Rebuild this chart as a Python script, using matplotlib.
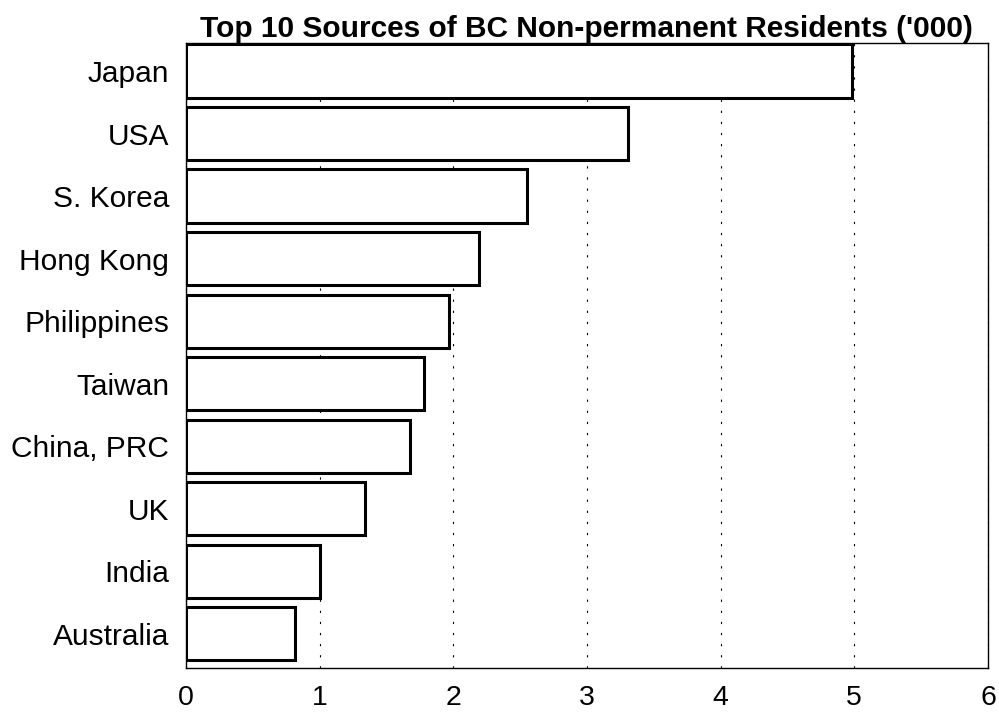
import matplotlib
matplotlib.use("Agg")
import matplotlib.pyplot as plt

countries = ["Japan", "USA", "S. Korea", "Hong Kong", "Philippines",
             "Taiwan", "China, PRC", "UK", "India", "Australia"]
residents = [4.98, 3.31, 2.55, 2.19, 1.97, 1.78, 1.68, 1.34, 1.00, 0.82]
xticks = [0, 1, 2, 3, 4, 5, 6]

plt.rcParams["font.family"] = ["Liberation Sans", "DejaVu Sans"]
fig = plt.figure(figsize=(9.99, 7.14), dpi=100)
ax = fig.add_axes([0.186, 0.064, 0.803, 0.876])

ypos = list(range(len(countries)))[::-1]
ax.barh(ypos, residents, height=0.85, color="white", edgecolor="black", linewidth=2.2, zorder=3)

ax.set_xlim(0, 6)
ax.set_ylim(-0.55, 9.45)
ax.set_xticks(xticks)
ax.set_yticks(ypos)
ax.set_yticklabels(countries)
ax.tick_params(axis="y", length=0, labelsize=21.5, pad=12)
ax.tick_params(axis="x", length=0, labelsize=20.5, pad=12)
ax.xaxis.grid(True, color="black", linestyle=(0, (2, 8)), linewidth=0.8, zorder=0)
for s in ax.spines.values():
    s.set_linewidth(1.0)
ax.set_title("Top 10 Sources of BC Non-permanent Residents ('000)",
             fontsize=21.5, fontweight="bold", pad=4)

fig.savefig("out.png", dpi=100)
